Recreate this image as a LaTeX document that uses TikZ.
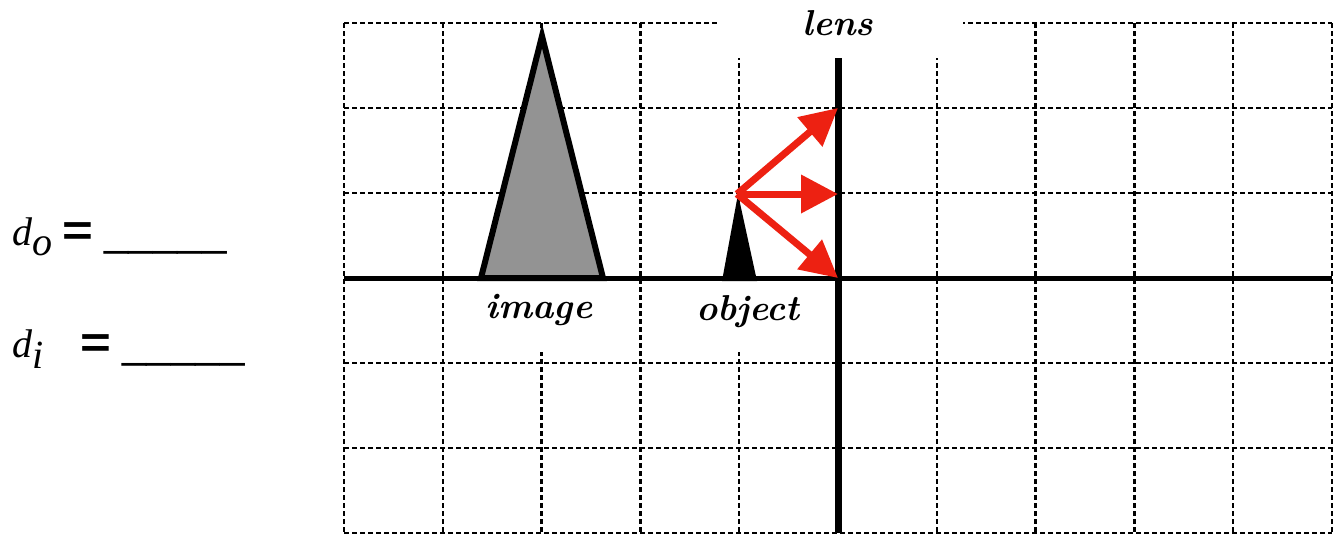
\documentclass[tikz,border=0pt]{standalone}
\usepackage{fontspec}
\newfontfamily\timesf{Liberation Serif}[ItalicFont={Liberation Serif Italic}]
\newfontfamily\timesit{Liberation Serif Italic}
\newfontfamily\arialf{Liberation Sans}[BoldFont={Liberation Sans Bold}]
\usetikzlibrary{arrows.meta}
\definecolor{rayred}{RGB}{237,33,18}
\definecolor{imggray}{RGB}{147,147,147}
\begin{document}
\begin{tikzpicture}[x=1pt,y=-1pt,
  gridline/.style={line width=2.3pt, dash pattern=on 4.5pt off 3.5pt},
  ray/.style={draw=rayred, line width=7pt, -{Triangle[length=37pt,width=37pt,fill=rayred]}},
  lbl/.style={font=\fontsize{36}{42}\selectfont\bfseries\itshape, anchor=base, inner sep=0pt},
  var/.style={font=\fontsize{40}{46}\selectfont, anchor=base west, inner sep=0pt},
  eqs/.style={font=\fontsize{44}{50}\selectfont\arialf\bfseries, anchor=base west, inner sep=0pt},
  blank/.style={font=\fontsize{44}{50}\selectfont\arialf, anchor=base west, inner sep=0pt},
  hidebox/.style={fill=white, draw=none}
]
\useasboundingbox (0,0) rectangle (1335,536);
% grid
\foreach \k in {0,...,10} {
  \draw[gridline] ({344+98.8*\k},23) -- ({344+98.8*\k},533);
}
\foreach \j in {0,...,6} {
  \draw[gridline] (344,{23+85*\j}) -- (1332,{23+85*\j});
}
% label backgrounds
\fill[hidebox] (717,0) rectangle (963,58);
\fill[hidebox] (468,281) rectangle (611,352);
\fill[hidebox] (688,281) rectangle (805,352);
% axis and lens
\draw[line width=5pt] (344,278) -- (1332,278);
\coordinate (lenstop) at (838,58);
\coordinate (lensbot) at (838,533);
\draw[line width=7pt] (lenstop) -- (lensbot);
% image
\draw[line width=6pt, fill=imggray, line join=miter] (481,278) -- (542,36) -- (603,278) -- cycle;
% object
\fill (722,281) -- (738,194) -- (757,281) -- cycle;
% rays
\coordinate (otip) at (737,194);
\coordinate (l1) at (838,108);
\coordinate (l2) at (838,194);
\coordinate (l3) at (838,278);
\draw[ray] (otip) -- (l1);
\draw[ray] (otip) -- (l2);
\draw[ray] (otip) -- (l3);
% labels
\node[lbl] (lens) at (838,35) {lens};
\node[lbl] (image) at (539,318) {image};
\node[lbl] (object) at (748,320) {object};
% left texts
\node[var] (do) at (12,245) {\timesit d\raisebox{-10pt}{o}};
\node[eqs] (eq1) at (62,245) {\scalebox{1.2}[1]{=}};
\node[blank] (b1) at (104,245) {\_\_\_\_\_};
\node[var] (di) at (12,357) {\timesit d\raisebox{-11pt}{i}};
\node[eqs] (eq2) at (80,357) {\scalebox{1.2}[1]{=}};
\node[blank] (b2) at (122,357) {\_\_\_\_\_};
\end{tikzpicture}
\end{document}
